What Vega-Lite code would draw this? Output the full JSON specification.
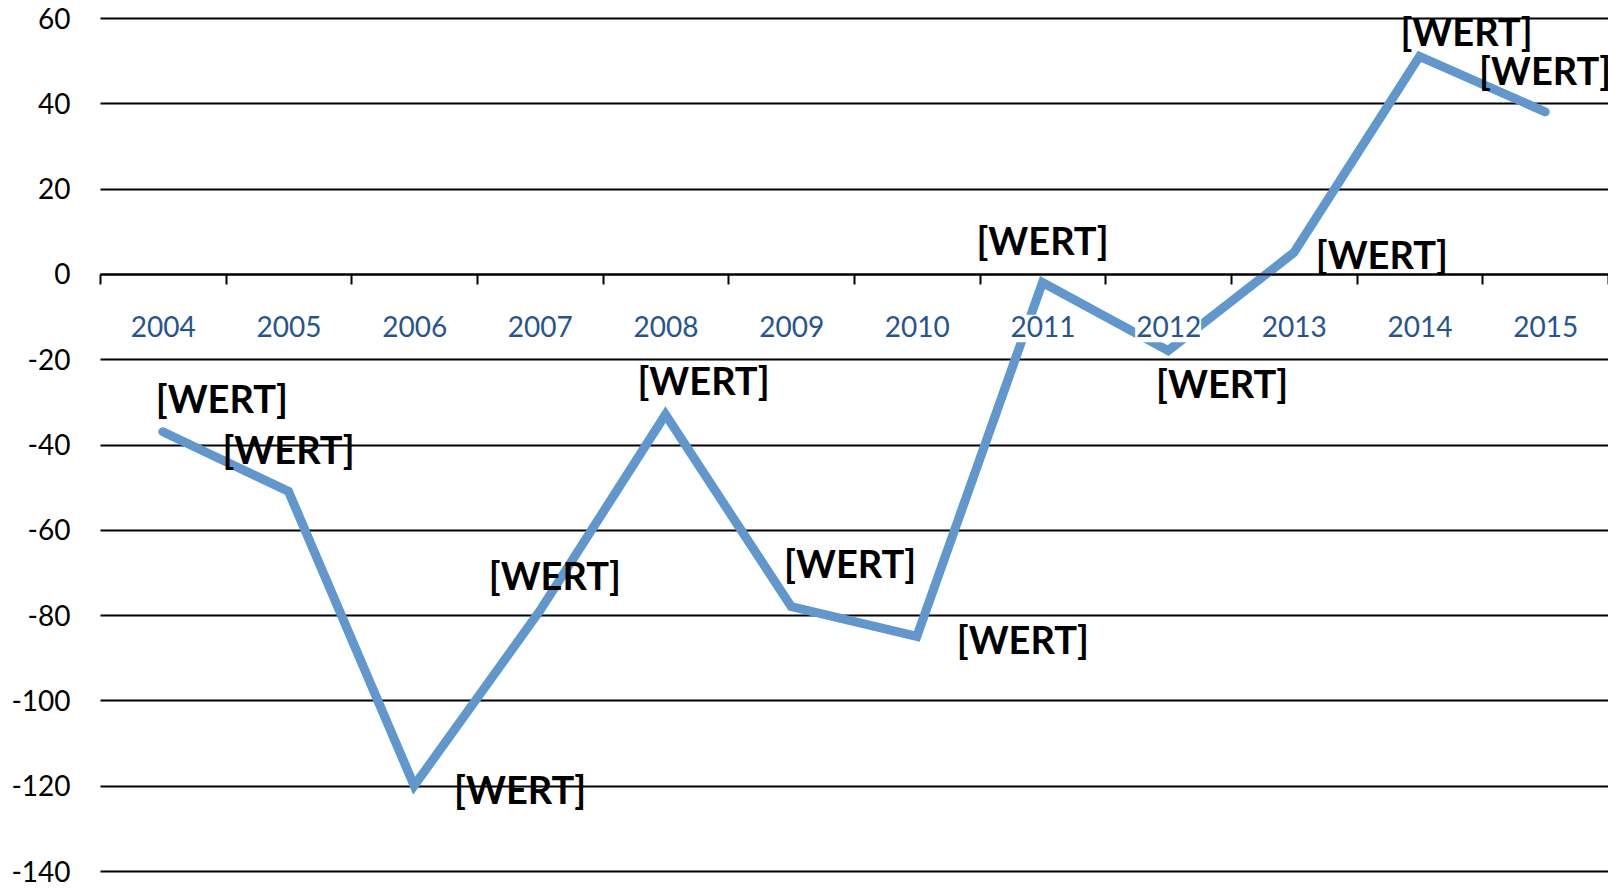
{
  "$schema": "https://vega.github.io/schema/vega-lite/v6.json",
  "width": 1508,
  "height": 853,
  "autosize": {"type": "none"},
  "padding": {"left": 100, "top": 18, "right": 0, "bottom": 17},
  "background": "white",
  "config": {"view": {"stroke": null}, "font": "Lato", "text": {"font": "Lato", "fontWeight": "bold", "fontSize": 38, "color": "black", "align": "center", "baseline": "middle"}},
  "data": {"values": [
    {"year": "2004", "value": -37},
    {"year": "2005", "value": -51},
    {"year": "2006", "value": -120},
    {"year": "2007", "value": -79},
    {"year": "2008", "value": -33},
    {"year": "2009", "value": -78},
    {"year": "2010", "value": -85},
    {"year": "2011", "value": -2},
    {"year": "2012", "value": -18},
    {"year": "2013", "value": 5},
    {"year": "2014", "value": 51},
    {"year": "2015", "value": 38}
  ]},
  "encoding": {
    "x": {"field": "year", "type": "ordinal", "scale": {"type": "band", "paddingInner": 0, "paddingOuter": 0},
      "axis": {"title": null, "orient": "bottom", "offset": -597, "tickBand": "extent", "domainColor": "black", "domainWidth": 2, "tickColor": "black", "tickWidth": 2, "tickSize": 10, "labelColor": "#255591", "labelFont": "Lato", "labelFontSize": 28, "labelBaseline": "middle", "labelPadding": 44, "labelAngle": 0, "grid": false, "zindex": 1}},
    "y": {"field": "value", "type": "quantitative", "scale": {"domain": [-140, 60], "nice": false, "zero": false},
      "axis": {"title": null, "values": [-140, -120, -100, -80, -60, -40, -20, 0, 20, 40, 60], "labelExpr": "replace(datum.label, '\u2212', '-')", "domain": false, "ticks": false, "labelPadding": 30, "labelOffset": 2, "labelFont": "Lato", "labelFontSize": 28, "labelColor": "black", "grid": true, "gridColor": "black", "gridWidth": 2}}
  },
  "layer": [
    {"mark": {"type": "line", "color": "#6097CD", "strokeWidth": 9, "strokeCap": "round", "strokeJoin": "miter"}},
    {"mark": {"type": "rect", "color": "white", "width": 66}, "encoding": {"y": {"datum": -9.6}, "y2": {"datum": -16}}},
    {"transform": [{"filter": {"field": "year", "oneOf": ["2005", "2011", "2015"]}}], "mark": {"type": "text", "text": "[WERT]", "dx": 0, "dy": -38}},
    {"transform": [{"filter": {"field": "year", "oneOf": ["2006", "2010"]}}], "mark": {"type": "text", "text": "[WERT]", "dx": 106, "dy": 7}},
    {"transform": [{"filter": {"field": "year", "equal": "2004"}}], "mark": {"type": "text", "text": "[WERT]", "dx": 59, "dy": -30}},
    {"transform": [{"filter": {"field": "year", "equal": "2007"}}], "mark": {"type": "text", "text": "[WERT]", "dx": 15, "dy": -32}},
    {"transform": [{"filter": {"field": "year", "equal": "2008"}}], "mark": {"type": "text", "text": "[WERT]", "dx": 38, "dy": -31}},
    {"transform": [{"filter": {"field": "year", "equal": "2009"}}], "mark": {"type": "text", "text": "[WERT]", "dx": 59, "dy": -40}},
    {"transform": [{"filter": {"field": "year", "equal": "2012"}}], "mark": {"type": "text", "text": "[WERT]", "dx": 54, "dy": 36}},
    {"transform": [{"filter": {"field": "year", "equal": "2013"}}], "mark": {"type": "text", "text": "[WERT]", "dx": 88, "dy": 5}},
    {"transform": [{"filter": {"field": "year", "equal": "2014"}}], "mark": {"type": "text", "text": "[WERT]", "dx": 47, "dy": -21}}
  ]
}
